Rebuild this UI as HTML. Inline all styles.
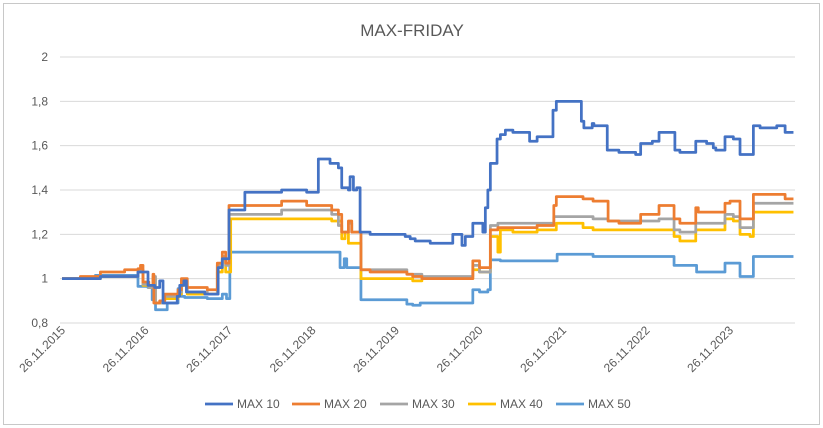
<!DOCTYPE html>
<html><head><meta charset="utf-8"><style>
body{margin:0;background:#fff;font-family:"Liberation Sans",sans-serif}
svg{display:block}
</style></head><body>
<svg id="chart" width="823" height="428">
<rect x="3.5" y="3.5" width="816" height="421" fill="#fff" stroke="#c8c8c8"/>
<text x="412" y="36" text-anchor="middle" font-size="17" fill="#595959">MAX-FRIDAY</text>
<g id="grid"></g><g id="ylab"></g><g id="xlab"></g><g id="series"></g><g id="legend"></g>
</svg>
<script>
// years since 26.11.2015
const xTickLabels=["26.11.2015","26.11.2016","26.11.2017","26.11.2018","26.11.2019","26.11.2020","26.11.2021","26.11.2022","26.11.2023"];
const yTicks=[0.8,1,1.2,1.4,1.6,1.8,2];
const yTickLabels=["0,8","1","1,2","1,4","1,6","1,8","2"];
const seriesNames=["MAX 10","MAX 20","MAX 30","MAX 40","MAX 50"];
const seriesColors=["#4472c4","#ed7d31","#a5a5a5","#ffc000","#5b9bd5"];
const tEnd=8.76;
const t10=[0,0.46,0.91,1.03,1.11,1.17,1.21,1.38,1.41,1.46,1.49,1.71,1.87,1.92,2.0,2.19,2.63,2.93,3.07,3.21,3.31,3.35,3.43,3.45,3.49,3.53,3.57,3.69,4.11,4.17,4.23,4.41,4.68,4.79,4.83,4.92,5.04,5.07,5.10,5.13,5.21,5.25,5.31,5.40,5.60,5.69,5.88,5.92,6.22,6.25,6.35,6.37,6.53,6.67,6.87,6.93,7.07,7.15,7.34,7.40,7.59,7.72,7.80,7.83,7.94,8.04,8.12,8.28,8.36,8.56,8.66];
const v10=[1.0,1.01,1.03,0.97,0.96,0.99,0.89,0.92,0.97,0.99,0.94,0.93,1.05,1.09,1.31,1.39,1.40,1.39,1.54,1.52,1.50,1.41,1.40,1.46,1.40,1.41,1.21,1.20,1.19,1.18,1.17,1.16,1.20,1.15,1.19,1.25,1.21,1.32,1.40,1.52,1.63,1.65,1.67,1.66,1.62,1.64,1.76,1.80,1.71,1.68,1.70,1.69,1.58,1.57,1.56,1.61,1.62,1.66,1.58,1.57,1.62,1.61,1.59,1.58,1.64,1.63,1.56,1.69,1.68,1.69,1.66];
const t20=[0,0.22,0.46,0.75,0.91,0.94,0.97,1.04,1.09,1.10,1.17,1.23,1.39,1.43,1.5,1.74,1.86,1.92,1.96,2.0,2.63,2.93,3.23,3.31,3.35,3.43,3.47,3.58,3.69,4.13,4.20,4.31,4.92,5.00,5.13,5.22,5.40,5.69,5.89,5.92,6.24,6.36,6.54,6.67,6.93,7.15,7.33,7.40,7.59,7.62,7.94,8.0,8.12,8.28,8.66];
const v20=[1.0,1.01,1.03,1.04,1.045,1.06,0.985,0.97,1.02,0.89,0.90,0.93,0.95,1.0,0.96,0.95,1.07,1.12,1.07,1.33,1.35,1.33,1.31,1.29,1.21,1.26,1.21,1.04,1.03,1.02,1.01,1.0,1.08,1.05,1.22,1.23,1.23,1.24,1.33,1.37,1.36,1.35,1.26,1.25,1.29,1.33,1.27,1.25,1.32,1.30,1.34,1.35,1.27,1.38,1.36];
const t30=[0,0.46,0.91,0.97,1.04,1.09,1.12,1.23,1.39,1.43,1.5,1.74,1.86,1.92,1.96,2.0,2.63,3.23,3.31,3.35,3.43,3.47,3.58,4.13,4.31,4.92,5.00,5.13,5.22,5.89,6.24,6.36,6.54,6.93,7.15,7.33,7.40,7.59,7.94,8.04,8.12,8.28];
const v30=[1.0,1.01,1.04,0.975,0.96,1.01,0.89,0.92,0.94,0.99,0.94,0.93,1.06,1.10,1.06,1.29,1.31,1.29,1.24,1.21,1.25,1.21,1.04,1.02,1.01,1.06,1.03,1.24,1.25,1.28,1.28,1.27,1.26,1.26,1.27,1.22,1.21,1.25,1.29,1.28,1.23,1.34];
const t40=[0,0.46,0.91,0.97,1.04,1.09,1.12,1.23,1.39,1.43,1.5,1.86,1.92,1.96,2.02,3.23,3.35,3.39,3.43,3.58,4.20,4.31,4.92,5.00,5.13,5.22,5.25,5.40,5.69,5.92,6.24,6.36,7.33,7.40,7.59,7.94,8.04,8.12,8.24,8.28];
const v40=[1.0,1.01,1.03,0.97,0.96,1.0,0.89,0.91,0.93,0.97,0.93,1.03,1.09,1.03,1.27,1.26,1.18,1.21,1.16,1.0,0.99,1.0,1.04,1.03,1.19,1.12,1.22,1.21,1.22,1.25,1.23,1.22,1.19,1.17,1.22,1.27,1.26,1.20,1.19,1.30];
const t50=[0,0.40,0.91,1.03,1.08,1.12,1.26,1.39,1.43,1.47,1.74,1.92,1.97,2.01,3.28,3.33,3.38,3.41,3.58,4.13,4.20,4.29,4.92,5.00,5.10,5.13,5.25,5.93,6.36,7.33,7.60,7.94,8.12,8.28];
const v50=[1.0,1.015,0.965,0.96,0.905,0.86,0.89,0.955,0.92,0.915,0.91,0.93,0.91,1.12,1.12,1.05,1.09,1.05,0.905,0.885,0.88,0.89,0.95,0.94,0.95,1.085,1.08,1.11,1.10,1.06,1.03,1.07,1.01,1.10];
const seriesT=[t10,t20,t30,t40,t50];
const seriesV=[v10,v20,v30,v40,v50];

const NS="http://www.w3.org/2000/svg";
const X0=62,X1=62+tEnd*83.5,PL=60,PR=795,Y0=323,Y1=57;
const xs=t=>X0+(t/tEnd)*(X1-X0);
const ys=v=>Y0-(v-0.8)/(2-0.8)*(Y0-Y1);
function mk(tag,attrs,parent){const e=document.createElementNS(NS,tag);for(const k in attrs)e.setAttribute(k,attrs[k]);parent.appendChild(e);return e;}
const grid=document.getElementById('grid'),ylab=document.getElementById('ylab'),xlab=document.getElementById('xlab'),ser=document.getElementById('series'),leg=document.getElementById('legend');
yTicks.forEach((v,i)=>{
  const l=mk('line',{x1:PL,x2:PR,y1:ys(v),y2:ys(v),stroke:'#d9d9d9','stroke-width':1},grid);
  
  
  const t=mk('text',{x:48,y:ys(v)+4,'text-anchor':'end','font-size':12,fill:'#595959'},ylab);
  t.textContent=yTickLabels[i];
  
  
});
xTickLabels.forEach((s,i)=>{
  const x=xs(i);
  const t=mk('text',{x:x+4,y:Y0+8,'text-anchor':'end','font-size':12,fill:'#595959',transform:`rotate(-45 ${x+4} ${Y0+8})`},xlab);
  t.textContent=s;
  
  
});
for(let s=4;s>=0;s--){
  const T=seriesT[s],V=seriesV[s];let d='';
  for(let i=0;i<T.length;i++){
    const x=xs(T[i]),y=ys(V[i]);
    d+= i===0?`M${x},${y}`:`H${x}V${y}`;
  }
  d+=`H${xs(tEnd)}`;
  const p=mk('path',{d:d,fill:'none',stroke:seriesColors[s],'stroke-width':2.75,'stroke-linejoin':'round'},ser);
  
  
}
const legX=[205,292,380,468,556];
seriesNames.forEach((n,i)=>{
  const g=mk('g',{},leg);
  
  
  mk('line',{x1:legX[i],x2:legX[i]+28,y1:404,y2:404,stroke:seriesColors[i],'stroke-width':2.75},g);
  const t=mk('text',{x:legX[i]+32,y:408,'font-size':12,fill:'#595959'},g);
  t.textContent=n;
});
</script>
</body></html>
